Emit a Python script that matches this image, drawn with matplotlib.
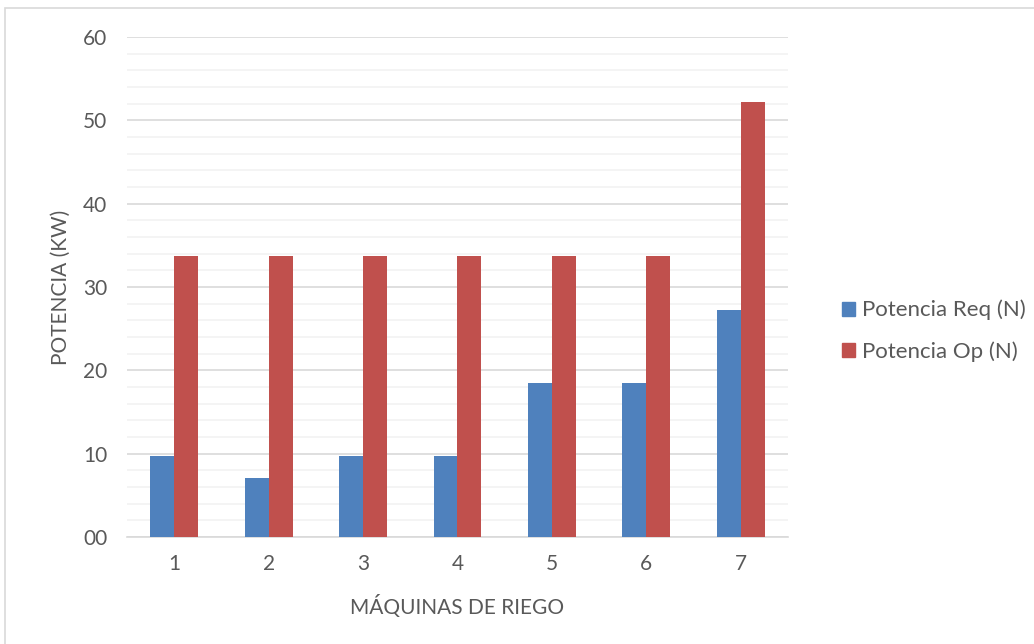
import numpy as np
import matplotlib.pyplot as plt
from matplotlib.patches import Rectangle, Patch
from matplotlib.ticker import MultipleLocator, FuncFormatter

maquinas = ['1', '2', '3', '4', '5', '6', '7']
potencia_req = [9.7, 7.05, 9.7, 9.7, 18.5, 18.5, 27.3]
potencia_op = [33.7, 33.7, 33.7, 33.7, 33.7, 33.7, 52.2]

azul = '#4f81bd'
rojo = '#c0504d'
gris = '#595959'

plt.rcParams['font.family'] = ['Lato', 'DejaVu Sans']

fig = plt.figure(figsize=(10.34, 6.44), dpi=100)
ax = fig.add_axes([0.1228, 0.166, 0.6393, 0.7765])

x = np.arange(1, len(maquinas) + 1)
w = 0.254
ax.bar(x - w / 2, potencia_req, w, color=azul, zorder=3)
ax.bar(x + w / 2, potencia_op, w, color=rojo, zorder=3)

ax.set_xlim(0.5, 7.5)
ax.set_ylim(0, 60)
ax.set_xticks(x)
ax.set_xticklabels(maquinas)
ax.yaxis.set_major_locator(MultipleLocator(10))
ax.yaxis.set_minor_locator(MultipleLocator(2))
ax.yaxis.set_major_formatter(FuncFormatter(lambda v, p: f'{int(v):02d}'))

ax.grid(which='major', axis='y', color='#d9d9d9', linewidth=1.2, zorder=0)
ax.grid(which='minor', axis='y', color='#f2f2f2', linewidth=1.2, zorder=0)
for s in ['top', 'right', 'left']:
    ax.spines[s].set_visible(False)
ax.spines['bottom'].set_color('#d9d9d9')
ax.spines['bottom'].set_linewidth(1.2)
ax.tick_params(which='both', length=0, colors=gris, labelsize=15)
ax.tick_params(axis='x', pad=12)
ax.tick_params(axis='y', pad=14)

ax.set_xlabel('MÁQUINAS DE RIEGO', color=gris, fontsize=15, labelpad=15)
ax.set_ylabel('POTENCIA (KW)', color=gris, fontsize=15, labelpad=9)

handles = [Patch(color=azul, label='Potencia Req (N)'),
           Patch(color=rojo, label='Potencia Op (N)')]
fig.legend(handles=handles, loc='center left', bbox_to_anchor=(0.795, 0.486),
           frameon=False, fontsize=16, labelcolor=gris, handlelength=0.6,
           handleheight=0.6, handletextpad=0.28, labelspacing=0.95)

# outer chart frame
fig.patches.append(Rectangle((0.0045, -0.05), 1.1, 1.0376, transform=fig.transFigure,
                             fill=False, edgecolor='#d9d9d9', linewidth=1.2))

fig.savefig('out.png', dpi=100)
